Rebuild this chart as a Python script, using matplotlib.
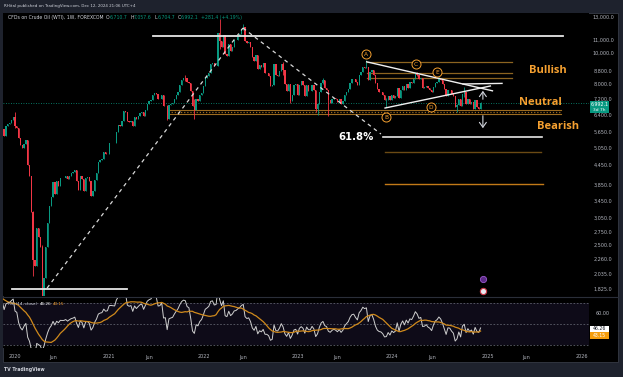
import numpy as np
import pandas as pd
import matplotlib
matplotlib.use("Agg")
import matplotlib.pyplot as plt
from matplotlib.patches import Rectangle
from matplotlib.lines import Line2D

# ---------------- data ----------------
START = "2019-11-18"  # first weekly bar (Monday)
warmup_closes = [5751, 6021, 5563, 5620, 5566, 5450, 5487, 5417, 5510, 5652,
                 5485, 5809, 5591, 5281, 5470, 5378, 5666, 5620, 5724, 5772]
closes_2019 = [5777, 5517, 5920, 6007, 6044, 6172, 6305]
closes_2020 = [5904, 5854, 5419, 5156, 5032, 5205, 5338, 4476, 4128, 3173,
               2243, 2151, 2834, 2650, 2480, 1694, 1978, 2474, 2943, 3325,
               3549, 3955, 3626, 3975, 3849, 4065, 4055, 4059, 4129, 4027,
               4122, 4201, 4234, 4297, 3977, 3733, 4111, 4025, 3705, 4060,
               4088, 3985, 3579, 3714, 4013, 4215, 4553, 4626, 4657, 4910,
               4823, 4852]
closes_2021 = [5224, 5236, 5227, 5220, 5685, 5947, 5924, 6150, 6609, 6561,
               6142, 6097, 6145, 5932, 6313, 6214, 6358, 6490, 6537, 6358,
               6632, 6962, 7091, 7164, 7405, 7516, 7456, 7181, 7207, 7395,
               6828, 6844, 6232, 6874, 6929, 6972, 7197, 7398, 7588, 7935,
               8228, 8376, 8357, 8127, 8079, 7610, 6815, 6626, 7167, 7086,
               7379, 7521]
closes_2022 = [7890, 8382, 8514, 8682, 9231, 9310, 9107, 9159, 11568, 10933,
               10470, 11390, 9927, 9826, 10695, 10207, 10469, 10977, 11049, 11323,
               11507, 11887, 12067, 10956, 10762, 10843, 10479, 9759, 9470, 9862,
               8901, 9209, 9077, 9306, 8687, 8679, 8511, 7874, 7949, 9264,
               8561, 8505, 8790, 9261, 8896, 8008, 7628, 7998, 7102, 7429,
               7956, 8026]
closes_2023 = [7377, 7986, 8164, 7968, 7339, 7972, 7634, 7632, 7968, 7668,
               6674, 6926, 7567, 8070, 8252, 7787, 7678, 7134, 7004, 7169,
               7267, 7174, 7017, 7178, 6916, 7064, 7386, 7542, 7707, 8058,
               8282, 8319, 8125, 7983, 8555, 8751, 9077, 9003, 9079, 8279,
               8769, 8875, 8554, 8051, 7717, 7589, 7554, 7407, 7123, 7143,
               7356, 7165]
closes_2024 = [7381, 7268, 7341, 7801, 7228, 7684, 7919, 7649, 7997, 7801,
               8104, 8063, 8317, 8691, 8566, 8314, 8385, 7811, 7826, 7923,
               7772, 7699, 7553, 7845, 8073, 8154, 8316, 8221, 8013, 7716,
               7352, 7684, 7665, 7483, 7355, 6767, 6865, 7192, 6818, 7438,
               7556, 6922, 7178, 6949, 7038, 6702, 7124, 6800, 6711, 6992.1]

wick_dates = ["2020-01-06", "2020-03-16", "2020-04-20", "2021-08-16", "2021-10-25",
              "2021-11-29", "2022-03-07", "2022-06-06", "2022-11-07", "2022-12-05",
              "2023-03-13", "2023-03-20", "2023-04-10", "2023-05-01", "2023-09-25",
              "2023-12-11", "2024-04-08", "2024-07-01", "2024-09-09", "2024-10-07",
              "2024-12-09"]
wick_highs = [6565, 3200, 2500, 6900, 8541, 7190, 12848, 12368, 9374, 7700,
              7700, 7000, 8353, 7630, 9501, 7269, 8763, 8452, 6950, 7846, 7057.6]
wick_lows = [5850, 2000, 1500, 6174, 8177, 6243, 10340, 11800, 8530, 7008,
             6565, 6412, 8000, 6357, 8980, 6771, 8500, 8200, 6527, 7300, 6704.7]

price_ticks = [13000, 11000, 10000, 8800, 8000, 7200, 6400, 5650, 5050, 4450,
               3850, 3450, 3050, 2750, 2500, 2260, 2035, 1825]
time_tick_dates = ["2020-01-06", "2020-06-01", "2021-01-04", "2021-06-07", "2022-01-03",
                   "2022-06-06", "2023-01-02", "2023-06-05", "2024-01-01", "2024-06-03",
                   "2025-01-06", "2025-06-02", "2026-01-05"]
time_tick_labels = ["2020", "Jun", "2021", "Jun", "2022", "Jun", "2023", "Jun",
                    "2024", "Jun", "2025", "Jun", "2026"]

# ---------------- helpers ----------------
W, H = 623, 377
BG = "#1e222d"
UP, DN = "#089981", "#f23645"
ORANGE = "#f5a030"
TXT = "#b2b5be"
start_ts = pd.Timestamp(START)


def wk(d):
    return (pd.Timestamp(d) - start_ts).days / 7.0


def rect(x0, y0, x1, y1):
    return [x0 / W, 1 - y1 / H, (x1 - x0) / W, (y1 - y0) / H]


fig = plt.figure(figsize=(W / 100, H / 100), dpi=100)
fig.patch.set_facecolor(BG)
renderer = fig.canvas.get_renderer()


def ftext(px, py, s, **kw):
    kw.setdefault("color", "#d1d4dc")
    kw.setdefault("va", "center")
    return fig.text(px / W, 1 - py / H, s, **kw)


def seq_text(px, py, parts, fontsize):
    x = px
    for s, col, gap in parts:
        t = ftext(x, py, s, color=col, fontsize=fontsize, ha="left", zorder=10)
        x += t.get_window_extent(renderer).width + gap


# chart frame
fig.add_artist(Rectangle((3 / W, 1 - 362 / H), 615 / W, 349 / H, transform=fig.transFigure,
                         facecolor="black", edgecolor="#363a45", lw=0.6, zorder=0))

closes = np.array(closes_2019 + closes_2020 + closes_2021 + closes_2022 +
                  closes_2023 + closes_2024, dtype=float)
n = len(closes)
xs = np.arange(n, dtype=float)
opens = np.r_[warmup_closes[-1], closes[:-1]]
opens[-1] = 6710.7
highs = np.maximum(opens, closes)
lows = np.minimum(opens, closes)
for d, h, l in zip(wick_dates, wick_highs, wick_lows):
    k = int(round(wk(d)))
    if 0 <= k < n:
        highs[k] = max(highs[k], h)
        lows[k] = min(lows[k], l)

XL = (0.376, 323.87)

# ---------------- main pane ----------------
ax = fig.add_axes(rect(3, 13, 589, 296))
ax.set_facecolor("black")
ax.set_yscale("log")
ax.set_xlim(*XL)
ax.set_ylim(1735, 13381)
for s in ax.spines.values():
    s.set_visible(False)
ax.set_xticks([]); ax.set_yticks([])
ax.yaxis.set_minor_locator(matplotlib.ticker.NullLocator())

cols = np.where(closes >= opens, UP, DN)
ax.vlines(xs, lows, highs, colors=cols, lw=0.6, zorder=3)
ax.bar(xs, closes - opens, bottom=opens, width=0.72, color=cols, lw=0, zorder=3)

# current price line
ax.axhline(closes[-1], color=UP, ls=(0, (1, 2)), lw=0.6, zorder=2)

# orange dotted band
b0, b1 = wk("2021-08-19"), wk("2025-10-16")
ax.plot([b0, b1], [6667, 6667], color="#9c6b20", lw=0.8, zorder=2)
ax.plot([b0, b1], [6453, 6453], color="#9c6b20", lw=0.8, zorder=2)
ax.plot([b0, b1], [6560, 6560], color="#9c6b20", lw=0.9, ls=(0, (1, 1.5)), zorder=2)

# top / bottom horizontal white lines
ax.plot([wk("2021-06-22"), wk("2025-10-23")], [11335, 11335], color="#e6e6e6", lw=1.3, zorder=4)
ax.plot([wk("2019-12-25"), wk("2021-03-14")], [1825, 1825], color="#e6e6e6", lw=1.3, zorder=4)

# dashed fib lines
dash = dict(color="#d8d8d8", lw=0.9, ls=(0, (3, 3)), zorder=4)
ax.plot([wk("2020-05-09"), wk("2022-06-05")], [1837, 12008], **dash)
ax.plot([wk("2022-06-05"), wk("2023-11-20")], [12008, 5586], **dash)

# 61.8% and projection lines
ax.plot([wk("2023-11-28"), wk("2025-08-03")], [5467, 5467], color="#e6e6e6", lw=1.2, zorder=4)
ax.plot([wk("2023-12-06"), wk("2025-07-30")], [4905, 4905], color="#6b4a14", lw=1.0, zorder=4)
ax.plot([wk("2023-12-06"), wk("2025-08-07")], [3892, 3892], color="#c27a18", lw=1.0, zorder=4)

# upper orange levels
for p in [9413, 8696, 8351]:
    ax.plot([wk("2023-09-26"), wk("2025-04-09")], [p, p], color="#8c6420", lw=0.9, zorder=2)

# triangle
ax.plot([wk("2023-09-26"), wk("2025-01-24")], [9407, 7630], color="#f0f0f0", lw=1.0, zorder=5)
ax.plot([wk("2023-12-06"), wk("2025-01-16")], [6739, 7900], color="#f0f0f0", lw=1.0, zorder=5)
ax.plot([wk("2024-10-02"), wk("2025-03-02")], [8016, 8050], color="#f0f0f0", lw=1.0, zorder=5)

# arrows
ax.annotate("", xy=(wk("2024-12-18"), 7784), xytext=(wk("2024-12-18"), 7036),
            arrowprops=dict(arrowstyle="->,head_length=0.35,head_width=0.25", color="#d1d4dc", lw=0.8), zorder=6)
ax.annotate("", xy=(wk("2024-12-18"), 5711), xytext=(wk("2024-12-18"), 6504),
            arrowprops=dict(arrowstyle="->,head_length=0.35,head_width=0.25", color="#d1d4dc", lw=0.8), zorder=6)

# wave labels
for lab, d, p in [("A", "2023-09-22", 9953), ("B", "2023-12-10", 6315), ("C", "2024-04-03", 9258),
                  ("D", "2024-05-31", 6787), ("E", "2024-06-24", 8740)]:
    ax.plot(wk(d), p, "o", ms=6.5, mfc="black", mec=ORANGE, mew=0.7, zorder=7)
    ax.text(wk(d), p, lab, color=ORANGE, fontsize=4.2, ha="center", va="center", zorder=8)

bold = dict(fontweight="bold", family="Open Sans", ha="center", va="center", zorder=8)
ax.text(wk("2025-08-27"), 8820, "Bullish", color=ORANGE, fontsize=8, **bold)
ax.text(wk("2025-07-27"), 7036, "Neutral", color=ORANGE, fontsize=8, **bold)
ax.text(wk("2025-10-04"), 5918, "Bearish", color=ORANGE, fontsize=8, **bold)
ax.text(wk("2023-08-15"), 5467, "61.8%", color="white", fontsize=7.3, fontweight="bold",
        ha="center", va="center", zorder=8)

# small icons near bottom
ax.plot(wk("2024-12-18"), 1961, "o", ms=4.5, mfc="#5b2a86", mec="#9b59d0", mew=0.6, zorder=7)
ax.plot(wk("2024-12-18"), 1797, "o", ms=4.5, mfc="#e8e8f0", mec="#d03a4a", mew=0.8, zorder=7)

# price axis labels
ytr = ax.get_yaxis_transform()
xlab = (603 - 3) / 586
for p in price_ticks:
    ax.text(xlab, p, f"{p:,.1f}", transform=ytr, color=TXT, fontsize=3.5,
            ha="center", va="center", clip_on=False)
# current price tag
fig.add_artist(Rectangle((590 / W, 1 - 113 / H), 19 / W, 12 / H, transform=fig.transFigure,
                         facecolor=UP, edgecolor="none", zorder=9))
ftext(599.5, 104.5, "6,992.1", color="white", fontsize=3.4, ha="center", zorder=10)
ftext(599.5, 110, "3d 7h", color="white", fontsize=3.2, ha="center", zorder=10)

# legend
G = "#d1d4dc"
seq_text(7.5, 17.5, [("CFDs on Crude Oil (WTI), 1W, FOREXCOM", G, 3),
                     ("O", G, 0.3), ("6,710.7", UP, 2.5),
                     ("H", G, 0.3), ("7,057.6", UP, 2.5),
                     ("L", G, 0.3), ("6,704.7", UP, 2.5),
                     ("C", G, 0.3), ("6,992.1", UP, 2.5),
                     ("+281.4 (+4.19%)", UP, 0)], 3.3)

# header and footer
ftext(4, 6, "RHital published on TradingView.com, Dec 12, 2024 21:06 UTC+4", fontsize=2.9, ha="left")
ftext(4, 370, "TV TradingView", fontsize=3.3, ha="left", fontweight="bold")

# separator between panes
fig.add_artist(Line2D([3 / W, 618 / W], [1 - 296.5 / H] * 2, transform=fig.transFigure,
                      color="#2a2e39", lw=0.8))

# ---------------- RSI pane ----------------
allc = pd.Series(warmup_closes + list(closes), dtype=float)
dlt = allc.diff()
gain = dlt.clip(lower=0).ewm(alpha=1 / 14, adjust=False).mean()
loss = (-dlt.clip(upper=0)).ewm(alpha=1 / 14, adjust=False).mean()
rsi_all = 100 - 100 / (1 + gain / loss)
ma_all = rsi_all.rolling(14, min_periods=1).mean()
rsi = rsi_all.values[len(warmup_closes):]
rsi_ma = ma_all.values[len(warmup_closes):]

rx = fig.add_axes(rect(3, 297, 589, 348))
rx.set_facecolor("black")
rx.set_xlim(*XL)
rx.set_ylim(27.1, 75.7)
for s in rx.spines.values():
    s.set_visible(False)
rx.set_xticks([]); rx.set_yticks([])
rx.axhspan(30, 70, color="#0e0b18", lw=0, zorder=0)
for lv in (70, 50, 30):
    rx.axhline(lv, color="#5d606b", lw=0.6, ls=(0, (2, 2)), zorder=1)
rx.plot(xs, rsi, color="#cfcfcf", lw=0.7, zorder=3)
rx.plot(xs, rsi_ma, color="#d08a1c", lw=0.9, zorder=4)

seq_text(8, 304, [("RSI (14, close)", G, 2.5), ("46.26", "white", 2), ("43.15", ORANGE, 0)], 3.0)

ftext(603, 313.5, "60.00", fontsize=3.5, ha="center", color=TXT)
fig.add_artist(Rectangle((590 / W, 1 - 331.5 / H), 19 / W, 6 / H, transform=fig.transFigure,
                         facecolor="white", edgecolor="none", zorder=9))
ftext(599.5, 328.5, "46.26", fontsize=3.3, ha="center", color="#131722", zorder=10)
fig.add_artist(Rectangle((590 / W, 1 - 339 / H), 19 / W, 7 / H, transform=fig.transFigure,
                         facecolor="#f59d0c", edgecolor="none", zorder=9))
ftext(599.5, 335.5, "43.15", fontsize=3.3, ha="center", color="white", zorder=10)

# time axis labels
xtr = rx.get_xaxis_transform()
for d, lab in zip(time_tick_dates, time_tick_labels):
    rx.text(wk(d), (348 - 357) / 51, lab, transform=xtr, color=TXT, fontsize=3.5,
            ha="center", va="center", clip_on=False)

fig.savefig("out.png", dpi=100, facecolor=BG)
